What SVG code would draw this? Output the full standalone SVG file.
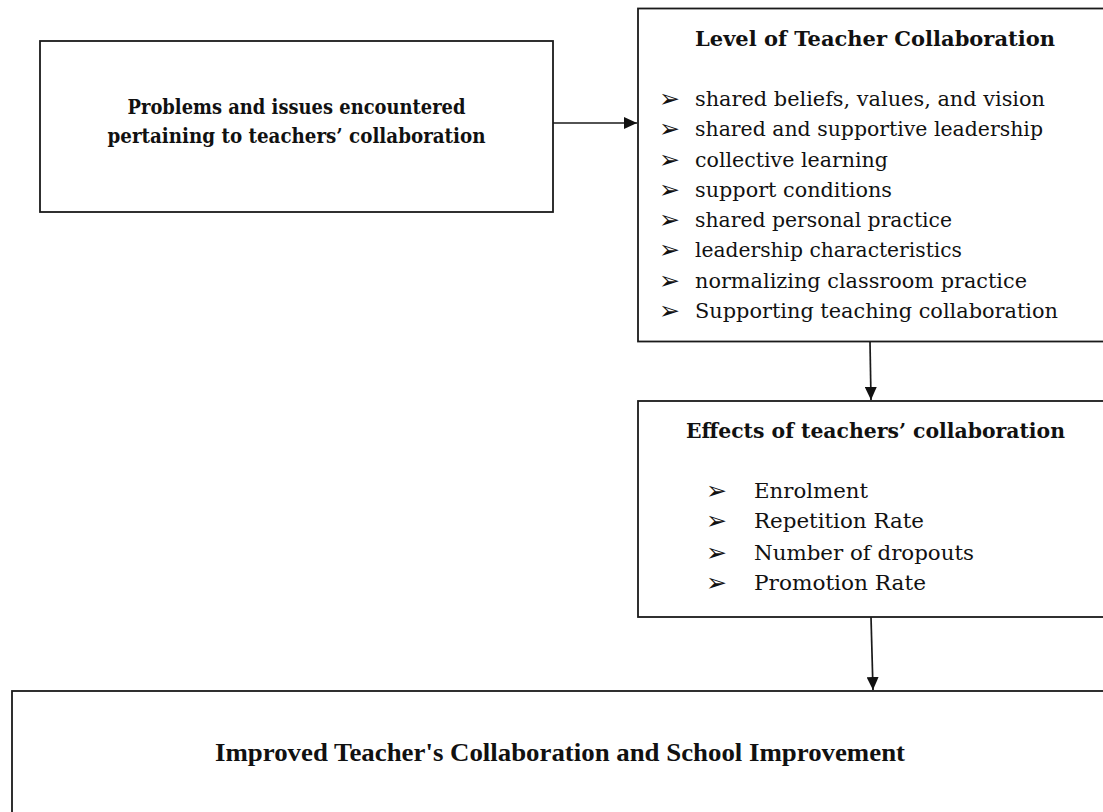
<svg xmlns="http://www.w3.org/2000/svg" width="1103" height="812" viewBox="0 0 1103 812">
<style>
.box{fill:#fff;stroke:#1a1a1a;stroke-width:1.8}
.hd{font-family:"DejaVu Serif","Liberation Serif",serif;font-weight:bold;font-size:20px;fill:#111}
.it{font-family:"DejaVu Serif","Liberation Serif",serif;font-size:20px;fill:#111}
.bl{font-family:"DejaVu Sans",sans-serif;font-size:25px;fill:#111}
.big{font-family:"Liberation Serif",serif;font-weight:bold;font-size:26px;fill:#111}
.cn{stroke:#1a1a1a;stroke-width:1.7;fill:none;marker-end:url(#ah)}
</style>
<defs>
<marker id="ah" markerUnits="userSpaceOnUse" markerWidth="14" markerHeight="12" refX="13" refY="6" orient="auto">
<path d="M0,0 L13,6 L0,12 Z" fill="#111"/>
</marker>
</defs>
<rect width="1103" height="812" fill="#fff"/>
<g id="connectors">
<line class="cn" x1="553" y1="123" x2="637" y2="123"/>
<line class="cn" x1="870" y1="342" x2="871" y2="400"/>
<line class="cn" x1="871" y1="617" x2="873" y2="690"/>
</g>
<g id="problems">
<rect class="box" x="40" y="41" width="513" height="171"/>
<text class="hd" x="296.5" y="114" text-anchor="middle" textLength="338" lengthAdjust="spacingAndGlyphs">Problems and issues encountered</text>
<text class="hd" x="296.5" y="143" text-anchor="middle" textLength="378" lengthAdjust="spacingAndGlyphs">pertaining to teachers’ collaboration</text>
</g>
<g id="level">
<rect class="box" x="638" y="8.5" width="474" height="333"/>
<text class="hd" x="695" y="46" textLength="360" lengthAdjust="spacingAndGlyphs">Level of Teacher Collaboration</text>
<text class="bl" x="659" y="107">➢</text>
<text class="bl" x="659" y="137">➢</text>
<text class="bl" x="659" y="168">➢</text>
<text class="bl" x="659" y="198">➢</text>
<text class="bl" x="659" y="228">➢</text>
<text class="bl" x="659" y="258">➢</text>
<text class="bl" x="659" y="289">➢</text>
<text class="bl" x="659" y="319">➢</text>
<text class="it" x="695" y="106" textLength="350" lengthAdjust="spacingAndGlyphs">shared beliefs, values, and vision</text>
<text class="it" x="695" y="136" textLength="348" lengthAdjust="spacingAndGlyphs">shared and supportive leadership</text>
<text class="it" x="695" y="167" textLength="193" lengthAdjust="spacingAndGlyphs">collective learning</text>
<text class="it" x="695" y="197" textLength="197" lengthAdjust="spacingAndGlyphs">support conditions</text>
<text class="it" x="695" y="227" textLength="257" lengthAdjust="spacingAndGlyphs">shared personal practice</text>
<text class="it" x="695" y="257" textLength="267" lengthAdjust="spacingAndGlyphs">leadership characteristics</text>
<text class="it" x="695" y="288" textLength="332" lengthAdjust="spacingAndGlyphs">normalizing classroom practice</text>
<text class="it" x="695" y="318" textLength="363" lengthAdjust="spacingAndGlyphs">Supporting teaching collaboration</text>
</g>
<g id="effects">
<rect class="box" x="638" y="401" width="474" height="216"/>
<text class="hd" x="686" y="438" textLength="379" lengthAdjust="spacingAndGlyphs">Effects of teachers’ collaboration</text>
<text class="bl" x="706" y="499">➢</text>
<text class="bl" x="706" y="529">➢</text>
<text class="bl" x="706" y="561">➢</text>
<text class="bl" x="706" y="591">➢</text>
<text class="it" x="754" y="498" textLength="114" lengthAdjust="spacingAndGlyphs">Enrolment</text>
<text class="it" x="754" y="528" textLength="170" lengthAdjust="spacingAndGlyphs">Repetition Rate</text>
<text class="it" x="754" y="560" textLength="220" lengthAdjust="spacingAndGlyphs">Number of dropouts</text>
<text class="it" x="754" y="590" textLength="172" lengthAdjust="spacingAndGlyphs">Promotion Rate</text>
</g>
<g id="improved">
<rect class="box" x="12" y="691" width="1100" height="140"/>
<text class="big" x="560" y="761" text-anchor="middle" textLength="690" lengthAdjust="spacingAndGlyphs">Improved Teacher's Collaboration and School Improvement</text>
</g>
</svg>
